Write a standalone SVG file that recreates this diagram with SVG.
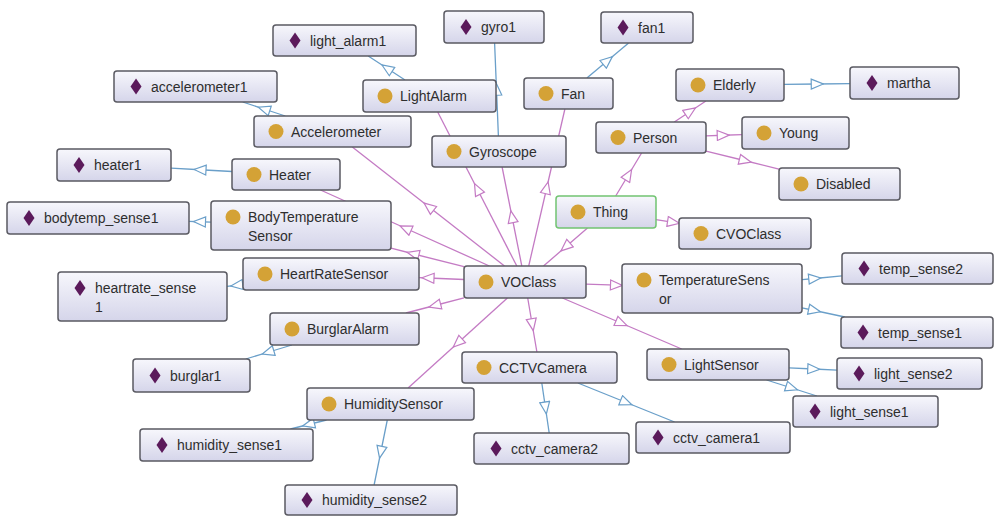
<svg xmlns="http://www.w3.org/2000/svg" xmlns:xlink="http://www.w3.org/1999/xlink" width="995" height="516" viewBox="0 0 995 516">
<defs>
<linearGradient id="boxg" x1="0" y1="0" x2="0" y2="1">
<stop offset="0" stop-color="#F7F7FC"/>
<stop offset="1" stop-color="#D5D5EA"/>
</linearGradient>
<marker id="arP" markerUnits="userSpaceOnUse" markerWidth="14" markerHeight="12" refX="6" refY="5" orient="auto" viewBox="-1 -1 14 12">
<path d="M0,0 L12,5 L0,10 Z" fill="#FFFFFF" stroke="#C47BC4" stroke-width="1.2"/>
</marker>
<marker id="arB" markerUnits="userSpaceOnUse" markerWidth="14" markerHeight="12" refX="6" refY="5" orient="auto" viewBox="-1 -1 14 12">
<path d="M0,0 L12,5 L0,10 Z" fill="#FFFFFF" stroke="#6A9FC9" stroke-width="1.2"/>
</marker>
<path id="dia" d="M0,-8 L5.5,0 L0,8 L-5.5,0 Z" fill="#5B1A5B"/>
</defs>
<style>
.box{fill:url(#boxg);stroke:#5A5A62;stroke-width:1.5}
.thing{fill:url(#boxg);stroke:#72C472;stroke-width:1.5}
.cls{fill:#D4A236}
.t{font-family:"Liberation Sans",Arial,sans-serif;font-size:14px;fill:#2E2E2E}
.p{fill:none;stroke:#C47BC4;stroke-width:1.3;marker-mid:url(#arP)}
.b{fill:none;stroke:#6A9FC9;stroke-width:1.3;marker-mid:url(#arB)}
</style>
<rect width="995" height="516" fill="#FFFFFF"/>
<g id="connectors">
<path class="p" d="M504.5,266 L428.75,206.75 L352.3,147"/>
<path class="p" d="M516.8,266 L477.25,189 L437.7,112"/>
<path class="p" d="M521.8,266 L512,216.75 L502.1,167"/>
<path class="p" d="M528.7,266 L546.75,187.75 L564.9,109"/>
<path class="p" d="M587.5,228 L565.5,247 L543.5,266"/>
<path class="p" d="M615.7,196 L628.5,174.75 L641.6,153"/>
<path class="p" d="M656,219.7 L673.5,222.4 L679,223.3"/>
<path class="p" d="M674.3,122 L690.5,111.25 L705.9,101"/>
<path class="p" d="M706,135.8 L723.25,135.25 L742,134.7"/>
<path class="p" d="M706,151.1 L745.25,160.75 L779,169.1"/>
<path class="p" d="M489.4,266 L405.5,228.25 L320.5,190"/>
<path class="p" d="M464,266.6 L413,253.75 L391,248.2"/>
<path class="p" d="M464,279.5 L428,278 L419,277.6"/>
<path class="p" d="M464,297.9 L434.75,305.5 L405.9,313"/>
<path class="p" d="M507.4,298 L457.75,343 L408.1,388"/>
<path class="p" d="M527.7,298 L532.25,324.75 L536.9,352"/>
<path class="p" d="M586,284.1 L616.5,285.2 L622,285.4"/>
<path class="p" d="M562.4,298 L621.5,323.25 L681.7,349"/>
<path class="b" d="M405,80 L387,68.25 L368.2,56"/>
<path class="b" d="M498.4,136 L496.5,89.25 L494.6,43"/>
<path class="b" d="M586.9,78 L607.75,60.5 L628.6,43"/>
<path class="b" d="M285.3,116 L264,109 L242.7,102"/>
<path class="b" d="M232,171.5 L200,169.75 L171,168.1"/>
<path class="b" d="M211,222.2 L199.5,221.75 L189,221.4"/>
<path class="b" d="M243,284.5 L236.75,285.25 L227,286.4"/>
<path class="b" d="M291.9,345 L268,352.25 L245.8,359"/>
<path class="b" d="M326.5,420 L308.5,424.5 L290.5,429"/>
<path class="b" d="M387.3,420 L380.75,452.25 L374.1,485"/>
<path class="b" d="M541.8,383 L545.5,408 L549.2,433"/>
<path class="b" d="M577.9,383 L626.25,402.5 L674.6,422"/>
<path class="b" d="M802,279.7 L814.75,278.5 L842,275.8"/>
<path class="b" d="M802,307.8 L814.5,310.5 L844.8,317"/>
<path class="b" d="M789,367.8 L813.75,369 L837,370.1"/>
<path class="b" d="M766.6,380 L791.75,388 L816.9,396"/>
<path class="b" d="M784,84.4 L817.25,84 L850,83.6"/>
</g>
<g id="n-light_alarm1"><rect class="box" x="273" y="25" width="143" height="31" rx="3"/><use href="#dia" x="295" y="40.5"/><text class="t" x="310" y="45.5">light_alarm1</text></g>
<g id="n-gyro1"><rect class="box" x="444" y="11" width="100" height="32" rx="3"/><use href="#dia" x="466" y="27"/><text class="t" x="481" y="32">gyro1</text></g>
<g id="n-fan1"><rect class="box" x="601" y="12" width="92" height="31" rx="3"/><use href="#dia" x="623" y="27.5"/><text class="t" x="638" y="32.5">fan1</text></g>
<g id="n-accelerometer1"><rect class="box" x="114" y="71" width="163" height="31" rx="3"/><use href="#dia" x="136" y="86.5"/><text class="t" x="151" y="91.5">accelerometer1</text></g>
<g id="n-LightAlarm"><rect class="box" x="363" y="80" width="133" height="32" rx="3"/><circle class="cls" cx="385" cy="96" r="7.5"/><text class="t" x="400" y="101">LightAlarm</text></g>
<g id="n-Fan"><rect class="box" x="524" y="78" width="89" height="31" rx="3"/><circle class="cls" cx="546" cy="93.5" r="7.5"/><text class="t" x="561" y="98.5">Fan</text></g>
<g id="n-Elderly"><rect class="box" x="676" y="69" width="108" height="32" rx="3"/><circle class="cls" cx="698" cy="85" r="7.5"/><text class="t" x="713" y="90">Elderly</text></g>
<g id="n-martha"><rect class="box" x="850" y="67" width="109" height="32" rx="3"/><use href="#dia" x="872" y="83"/><text class="t" x="887" y="88">martha</text></g>
<g id="n-Accelerometer"><rect class="box" x="254" y="116" width="157" height="31" rx="3"/><circle class="cls" cx="276" cy="131.5" r="7.5"/><text class="t" x="291" y="136.5">Accelerometer</text></g>
<g id="n-Gyroscope"><rect class="box" x="432" y="136" width="134" height="31" rx="3"/><circle class="cls" cx="454" cy="151.5" r="7.5"/><text class="t" x="469" y="156.5">Gyroscope</text></g>
<g id="n-Person"><rect class="box" x="596" y="122" width="110" height="31" rx="3"/><circle class="cls" cx="618" cy="137.5" r="7.5"/><text class="t" x="633" y="142.5">Person</text></g>
<g id="n-Young"><rect class="box" x="742" y="117" width="107" height="32" rx="3"/><circle class="cls" cx="764" cy="133" r="7.5"/><text class="t" x="779" y="138">Young</text></g>
<g id="n-heater1"><rect class="box" x="57" y="149" width="114" height="32" rx="3"/><use href="#dia" x="79" y="165"/><text class="t" x="94" y="170">heater1</text></g>
<g id="n-Heater"><rect class="box" x="232" y="159" width="108" height="31" rx="3"/><circle class="cls" cx="254" cy="174.5" r="7.5"/><text class="t" x="269" y="179.5">Heater</text></g>
<g id="n-Disabled"><rect class="box" x="779" y="168" width="121" height="32" rx="3"/><circle class="cls" cx="801" cy="184" r="7.5"/><text class="t" x="816" y="189">Disabled</text></g>
<g id="n-Thing"><rect class="thing" x="556" y="196" width="100" height="32" rx="3"/><circle class="cls" cx="578" cy="212" r="7.5"/><text class="t" x="593" y="217">Thing</text></g>
<g id="n-bodytemp_sense1"><rect class="box" x="7" y="202" width="182" height="32" rx="3"/><use href="#dia" x="29" y="218"/><text class="t" x="44" y="223">bodytemp_sense1</text></g>
<g id="n-BodyTemperatureSensor"><rect class="box" x="211" y="201" width="180" height="49" rx="3"/><circle class="cls" cx="233" cy="217" r="7.5"/><text class="t" x="248" y="222">BodyTemperature</text><text class="t" x="248" y="241">Sensor</text></g>
<g id="n-CVOClass"><rect class="box" x="679" y="218" width="132" height="31" rx="3"/><circle class="cls" cx="701" cy="233.5" r="7.5"/><text class="t" x="716" y="238.5">CVOClass</text></g>
<g id="n-HeartRateSensor"><rect class="box" x="243" y="258" width="176" height="32" rx="3"/><circle class="cls" cx="265" cy="274" r="7.5"/><text class="t" x="280" y="279">HeartRateSensor</text></g>
<g id="n-heartrate_sense1"><rect class="box" x="58" y="272" width="169" height="49" rx="3"/><use href="#dia" x="80" y="288"/><text class="t" x="95" y="293">heartrate_sense</text><text class="t" x="95" y="312">1</text></g>
<g id="n-VOClass"><rect class="box" x="464" y="266" width="122" height="32" rx="3"/><circle class="cls" cx="486" cy="282" r="7.5"/><text class="t" x="501" y="287">VOClass</text></g>
<g id="n-TemperatureSensor"><rect class="box" x="622" y="264" width="180" height="49" rx="3"/><circle class="cls" cx="644" cy="280" r="7.5"/><text class="t" x="659" y="285">TemperatureSens</text><text class="t" x="659" y="304">or</text></g>
<g id="n-temp_sense2"><rect class="box" x="842" y="253" width="151" height="31" rx="3"/><use href="#dia" x="864" y="268.5"/><text class="t" x="879" y="273.5">temp_sense2</text></g>
<g id="n-temp_sense1"><rect class="box" x="841" y="317" width="152" height="31" rx="3"/><use href="#dia" x="863" y="332.5"/><text class="t" x="878" y="337.5">temp_sense1</text></g>
<g id="n-BurglarAlarm"><rect class="box" x="270" y="313" width="149" height="32" rx="3"/><circle class="cls" cx="292" cy="329" r="7.5"/><text class="t" x="307" y="334">BurglarAlarm</text></g>
<g id="n-burglar1"><rect class="box" x="133" y="359" width="117" height="33" rx="3"/><use href="#dia" x="155" y="375.5"/><text class="t" x="170" y="380.5">burglar1</text></g>
<g id="n-CCTVCamera"><rect class="box" x="462" y="352" width="155" height="31" rx="3"/><circle class="cls" cx="484" cy="367.5" r="7.5"/><text class="t" x="499" y="372.5">CCTVCamera</text></g>
<g id="n-LightSensor"><rect class="box" x="647" y="349" width="142" height="31" rx="3"/><circle class="cls" cx="669" cy="364.5" r="7.5"/><text class="t" x="684" y="369.5">LightSensor</text></g>
<g id="n-light_sense2"><rect class="box" x="837" y="358" width="145" height="31" rx="3"/><use href="#dia" x="859" y="373.5"/><text class="t" x="874" y="378.5">light_sense2</text></g>
<g id="n-light_sense1"><rect class="box" x="793" y="396" width="145" height="31" rx="3"/><use href="#dia" x="815" y="411.5"/><text class="t" x="830" y="416.5">light_sense1</text></g>
<g id="n-HumiditySensor"><rect class="box" x="307" y="388" width="167" height="32" rx="3"/><circle class="cls" cx="329" cy="404" r="7.5"/><text class="t" x="344" y="409">HumiditySensor</text></g>
<g id="n-cctv_camera1"><rect class="box" x="636" y="422" width="154" height="31" rx="3"/><use href="#dia" x="658" y="437.5"/><text class="t" x="673" y="442.5">cctv_camera1</text></g>
<g id="n-humidity_sense1"><rect class="box" x="140" y="429" width="173" height="32" rx="3"/><use href="#dia" x="162" y="445"/><text class="t" x="177" y="450">humidity_sense1</text></g>
<g id="n-cctv_camera2"><rect class="box" x="474" y="433" width="155" height="31" rx="3"/><use href="#dia" x="496" y="448.5"/><text class="t" x="511" y="453.5">cctv_camera2</text></g>
<g id="n-humidity_sense2"><rect class="box" x="285" y="485" width="172" height="30" rx="3"/><use href="#dia" x="307" y="500"/><text class="t" x="322" y="505">humidity_sense2</text></g>
</svg>
